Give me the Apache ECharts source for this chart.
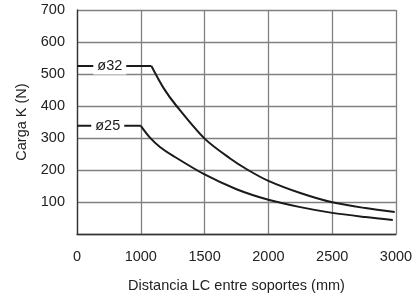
<!DOCTYPE html>
<html>
<head>
<meta charset="utf-8">
<script src="https://cdn.jsdelivr.net/npm/echarts@6/dist/echarts.min.js"></script>
<style>
    html, body { margin: 0; padding: 0; background: #fff; }
    #chart { width: 416px; height: 294px; }
</style>
</head>
<body>
<div id="chart"></div>
<script>
// eje X: de 0 a 1000 va comprimido (mismo ancho que un tramo de 500)
const xTicks = [0, 1000, 1500, 2000, 2500, 3000];
const yTicks = [0, 100, 200, 300, 400, 500, 600, 700];
const names = ['ø32', 'ø25'];

// ø32
const phi32Flat = [[0, 525], [1083, 525]];
const phi32Curve = [[1083, 525], [1180, 455], [1280, 400], [1500, 298], [1700, 236],
    [1840, 200], [2000, 166], [2250, 128], [2500, 99], [2760, 81], [2990, 69]];
const phi32LabelX = 514;

// ø25
const phi25Flat = [[0, 338], [1000, 338]];
const phi25Curve = [[1000, 338], [1070, 302], [1150, 272], [1250, 245], [1500, 186], [1750, 140],
    [2000, 107], [2250, 84], [2500, 66], [2760, 53], [2975, 44]];
const phi25LabelX = 482;

// 0..1000 real -> 500..1000 en el eje
const toAxis = x => x < 1000 ? 500 + x / 2 : x;
const mapPts = pts => pts.map(p => [toAxis(p[0]), p[1]]);

const font = 'Liberation Sans, Arial, sans-serif';
const ink = '#1a1a1a';

const flatSeries = (name, pts, labelX) => ({
    name: name,
    type: 'line',
    data: mapPts(pts),
    showSymbol: false,
    lineStyle: { color: ink, width: 2 },
    z: 3,
    markPoint: {
        symbol: 'rect',
        symbolSize: 1,
        itemStyle: { color: '#fff' },
        label: {
            show: true,
            position: 'inside',
            formatter: name,
            color: ink,
            fontFamily: font,
            fontSize: 14.5,
            backgroundColor: '#fff',
            padding: [1, 4]
        },
        data: [{ coord: [toAxis(labelX), pts[0][1]] }]
    }
});

const curveSeries = (name, pts) => ({
    name: name,
    type: 'line',
    data: mapPts(pts),
    showSymbol: false,
    smooth: 0.3,
    lineStyle: { color: ink, width: 2 },
    z: 3
});

const chart = echarts.init(document.getElementById('chart'));
chart.setOption({
    animation: false,
    grid: { left: 77, right: 20, top: 10, bottom: 60, outerBoundsMode: 'none' },
    xAxis: {
        type: 'value',
        min: 500,
        max: 3000,
        interval: 500,
        name: 'Distancia LC entre soportes (mm)',
        nameLocation: 'middle',
        nameGap: 44,
        nameTextStyle: { color: '#222', fontFamily: font, fontSize: 14.5 },
        axisLine: { show: true, lineStyle: { color: '#333', width: 1.3 } },
        axisTick: { show: false },
        axisLabel: {
            color: '#222', fontFamily: font, fontSize: 14.5, margin: 15,
            formatter: v => v === 500 ? String(xTicks[0]) : (xTicks.indexOf(v) >= 0 ? String(v) : '')
        },
        splitLine: { show: true, lineStyle: { color: '#808080', width: 1.3 } }
    },
    yAxis: {
        type: 'value',
        min: yTicks[0],
        max: yTicks[yTicks.length - 1],
        interval: 100,
        name: 'Carga K (N)',
        nameLocation: 'middle',
        nameGap: 47,
        nameTextStyle: { color: '#222', fontFamily: font, fontSize: 14.5 },
        axisLine: { show: true, lineStyle: { color: '#333', width: 1.3 } },
        axisTick: { show: false },
        axisLabel: {
            color: '#222', fontFamily: font, fontSize: 14.5, margin: 12,
            formatter: v => v === 0 ? '' : String(v)
        },
        splitLine: { show: true, lineStyle: { color: '#808080', width: 1.3 } }
    },
    series: [
        flatSeries(names[0], phi32Flat, phi32LabelX),
        curveSeries(names[0], phi32Curve),
        flatSeries(names[1], phi25Flat, phi25LabelX),
        curveSeries(names[1], phi25Curve)
    ]
});
</script>
</body>
</html>
